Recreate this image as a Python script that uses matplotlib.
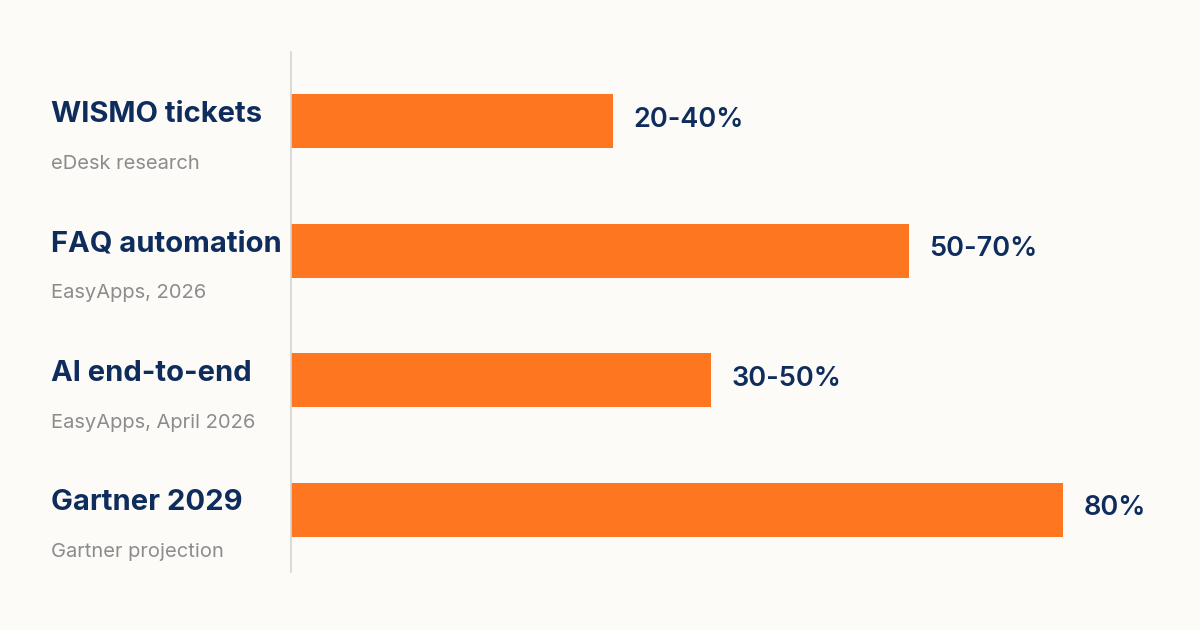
import matplotlib
matplotlib.use("Agg")
import matplotlib.pyplot as plt

# chart data (bar lengths in percent)
categories = ["WISMO tickets", "FAQ automation", "AI end-to-end", "Gartner 2029"]
sources = ["eDesk research", "EasyApps, 2026", "EasyApps, April 2026", "Gartner projection"]
bar_values = [33.4, 64.0, 43.5, 80.0]
value_labels = ["20-40%", "50-70%", "30-50%", "80%"]

BG = "#FCFBF8"
ORANGE = "#FF7620"
NAVY = "#0F2D5C"
GREY = "#8C8C8C"

plt.rcParams["font.family"] = ["Inter", "DejaVu Sans"]

fig = plt.figure(figsize=(12, 6.3), dpi=100, facecolor=BG)
ax = fig.add_axes([291 / 1200, 58 / 630, 869 / 1200, 520 / 630])
ax.set_facecolor(BG)

ypos = list(range(len(categories)))
ax.barh(ypos, bar_values, height=0.415, color=ORANGE)

ax.set_xlim(0, 90)
ax.set_ylim(3.48, -0.535)

# left spine only
for side in ["top", "right", "bottom"]:
    ax.spines[side].set_visible(False)
ax.spines["left"].set_color("#D6D4D0")
ax.spines["left"].set_linewidth(1.2)
ax.set_xticks([])
ax.set_yticks([])

for y, cat, src, val, lab in zip(ypos, categories, sources, bar_values, value_labels):
    # category name + source on the left
    ax.annotate(cat, xy=(51 / 1200, y), xycoords=("figure fraction", "data"),
                xytext=(0, 5), textcoords="offset points",
                ha="left", va="center", fontsize=21, fontweight="bold", color=NAVY)
    ax.annotate(src, xy=(51 / 1200, y), xycoords=("figure fraction", "data"),
                xytext=(0, -30.5), textcoords="offset points",
                ha="left", va="center", fontsize=14.5, color=GREY)
    # value label right of the bar
    ax.annotate(lab, xy=(val, y), xytext=(14.5, 1), textcoords="offset points",
                ha="left", va="center", fontsize=19.5, fontweight="semibold", color=NAVY)

fig.savefig("out.png", dpi=100, facecolor=BG)
